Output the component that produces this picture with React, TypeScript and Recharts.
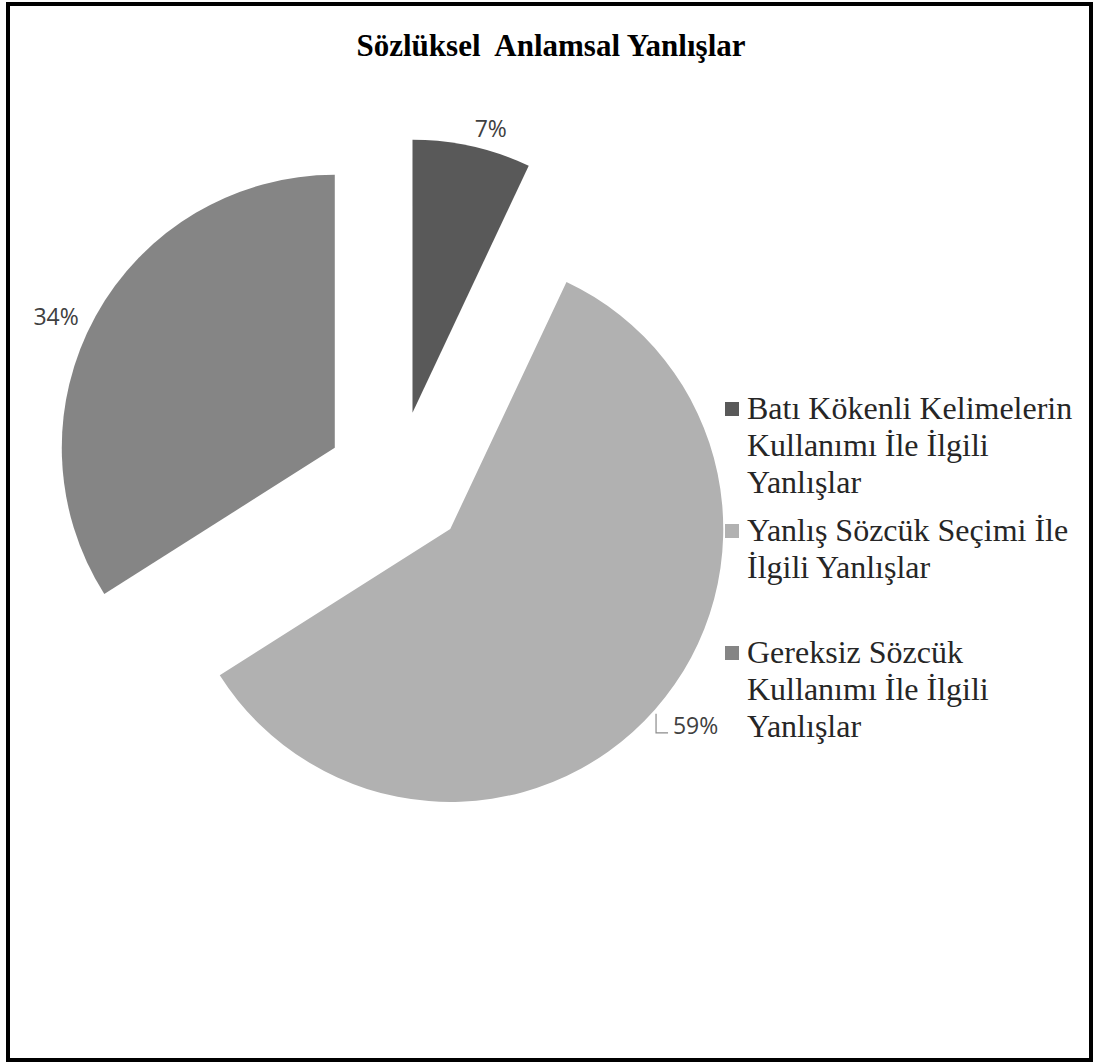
import { PieChart, Pie, Cell, Legend } from "recharts";

const CATEGORIES = [
  "Batı Kökenli Kelimelerin Kullanımı İle İlgili Yanlışlar",
  "Yanlış Sözcük Seçimi İle İlgili Yanlışlar",
  "Gereksiz Sözcük Kullanımı İle İlgili Yanlışlar",
];
const VALUES = [7, 59, 34];
const COLORS = ["#595959", "#b1b1b1", "#858585"];

const TITLE = "Sözlüksel  Anlamsal Yanlışlar";

const data = CATEGORIES.map((name, i) => ({ name, value: VALUES[i] }));

// exploded pie: every slice is pushed out from the shared centre
const CENTER_X = 397;
const CENTER_Y = 482;
const RADIUS = 273;
const EXPLODE = 71;
const RADIAN = Math.PI / 180;

const total = VALUES.reduce((a, b) => a + b, 0);
const offsets = VALUES.map((v, i) => {
  const before = VALUES.slice(0, i).reduce((a, b) => a + b, 0);
  const mid = 90 - ((before + v / 2) / total) * 360;
  return {
    x: CENTER_X + EXPLODE * Math.cos(mid * RADIAN),
    y: CENTER_Y - EXPLODE * Math.sin(mid * RADIAN),
  };
});

function makeLabel(target: number) {
  // eslint-disable-next-line @typescript-eslint/no-explicit-any
  return (props: any) => {
    const { cx, cy, midAngle, outerRadius, percent, index } = props;
    if (index !== target) return null;
    const w = index === 0 ? 34 : 47;
    const h = 20;
    const gap = 8;
    const cos = Math.cos(-midAngle * RADIAN);
    const sin = Math.sin(-midAngle * RADIAN);
    const px = cx + (outerRadius + gap) * cos;
    const py = cy + (outerRadius + gap) * sin;
    let lx = px + (cos >= 0 ? w / 2 : -w / 2);
    let ly = py + (sin >= 0 ? h / 2 : -h / 2);
    if (index === 1) lx += 11;
    if (index === 2) {
      lx -= 9;
      ly += 14;
    }
    const text = `${Math.round(percent * 100)}%`;
    return (
      <g>
        {index === 1 && (
          <path
            d={`M${lx - w / 2 - 16},${ly - 11} V${ly + 8} H${lx - w / 2 - 4}`}
            stroke="#8c8c8c"
            strokeWidth={1.2}
            fill="none"
          />
        )}
        <text
          x={lx}
          y={ly}
          textAnchor="middle"
          dominantBaseline="central"
          fill="#404040"
          fontSize={23}
          fontFamily="'Open Sans', 'Liberation Sans', sans-serif"
        >
          {text}
        </text>
      </g>
    );
  };
}

function LegendBox() {
  return (
    <div style={{ fontFamily: "'Liberation Serif', 'Times New Roman', serif" }}>
      {CATEGORIES.map((name, i) => (
        <div key={name} style={{ display: "flex", alignItems: "flex-start", height: 122 }}>
          <div
            style={{
              width: 14,
              height: 14,
              background: COLORS[i],
              marginTop: 12,
              marginRight: 8,
              flexShrink: 0,
            }}
          />
          <div
            style={{
              width: 340,
              fontSize: 32,
              lineHeight: "37px",
              color: "#262626",
              textAlign: "left",
            }}
          >
            {name}
          </div>
        </div>
      ))}
    </div>
  );
}

export default function App() {
  return (
    <div style={{ position: "absolute", left: 0, top: 0, width: 1098, height: 1064, background: "#fff" }}>
      <div
        style={{
          position: "absolute",
          left: 6,
          top: 2,
          width: 1087,
          height: 1060,
          border: "4px solid #000",
          boxSizing: "border-box",
        }}
      />
      <div
        style={{
          position: "absolute",
          left: 0,
          top: 28,
          width: 1102,
          textAlign: "center",
          fontFamily: "'Liberation Serif', 'Times New Roman', serif",
          fontWeight: "bold",
          fontSize: 31,
          lineHeight: "36px",
          whiteSpace: "pre",
          color: "#000",
        }}
      >
        {TITLE}
      </div>
      <div style={{ position: "absolute", left: 0, top: 0 }}>
        <PieChart width={1098} height={1064} margin={{ top: 0, right: 0, bottom: 0, left: 0 }}>
          {offsets.map((o, k) => (
            <Pie
              key={k}
              data={data}
              dataKey="value"
              nameKey="name"
              cx={o.x}
              cy={o.y}
              outerRadius={RADIUS}
              startAngle={90}
              endAngle={-270}
              stroke="none"
              isAnimationActive={false}
              labelLine={false}
              label={makeLabel(k)}
            >
              {data.map((_, i) => (
                <Cell key={i} fill={i === k ? COLORS[i] : "transparent"} stroke="none" />
              ))}
            </Pie>
          ))}
          <Legend
            layout="vertical"
            content={() => <LegendBox />}
            wrapperStyle={{ position: "absolute", left: 725, top: 390, width: 370, bottom: "auto", right: "auto" }}
          />
        </PieChart>
      </div>
    </div>
  );
}
